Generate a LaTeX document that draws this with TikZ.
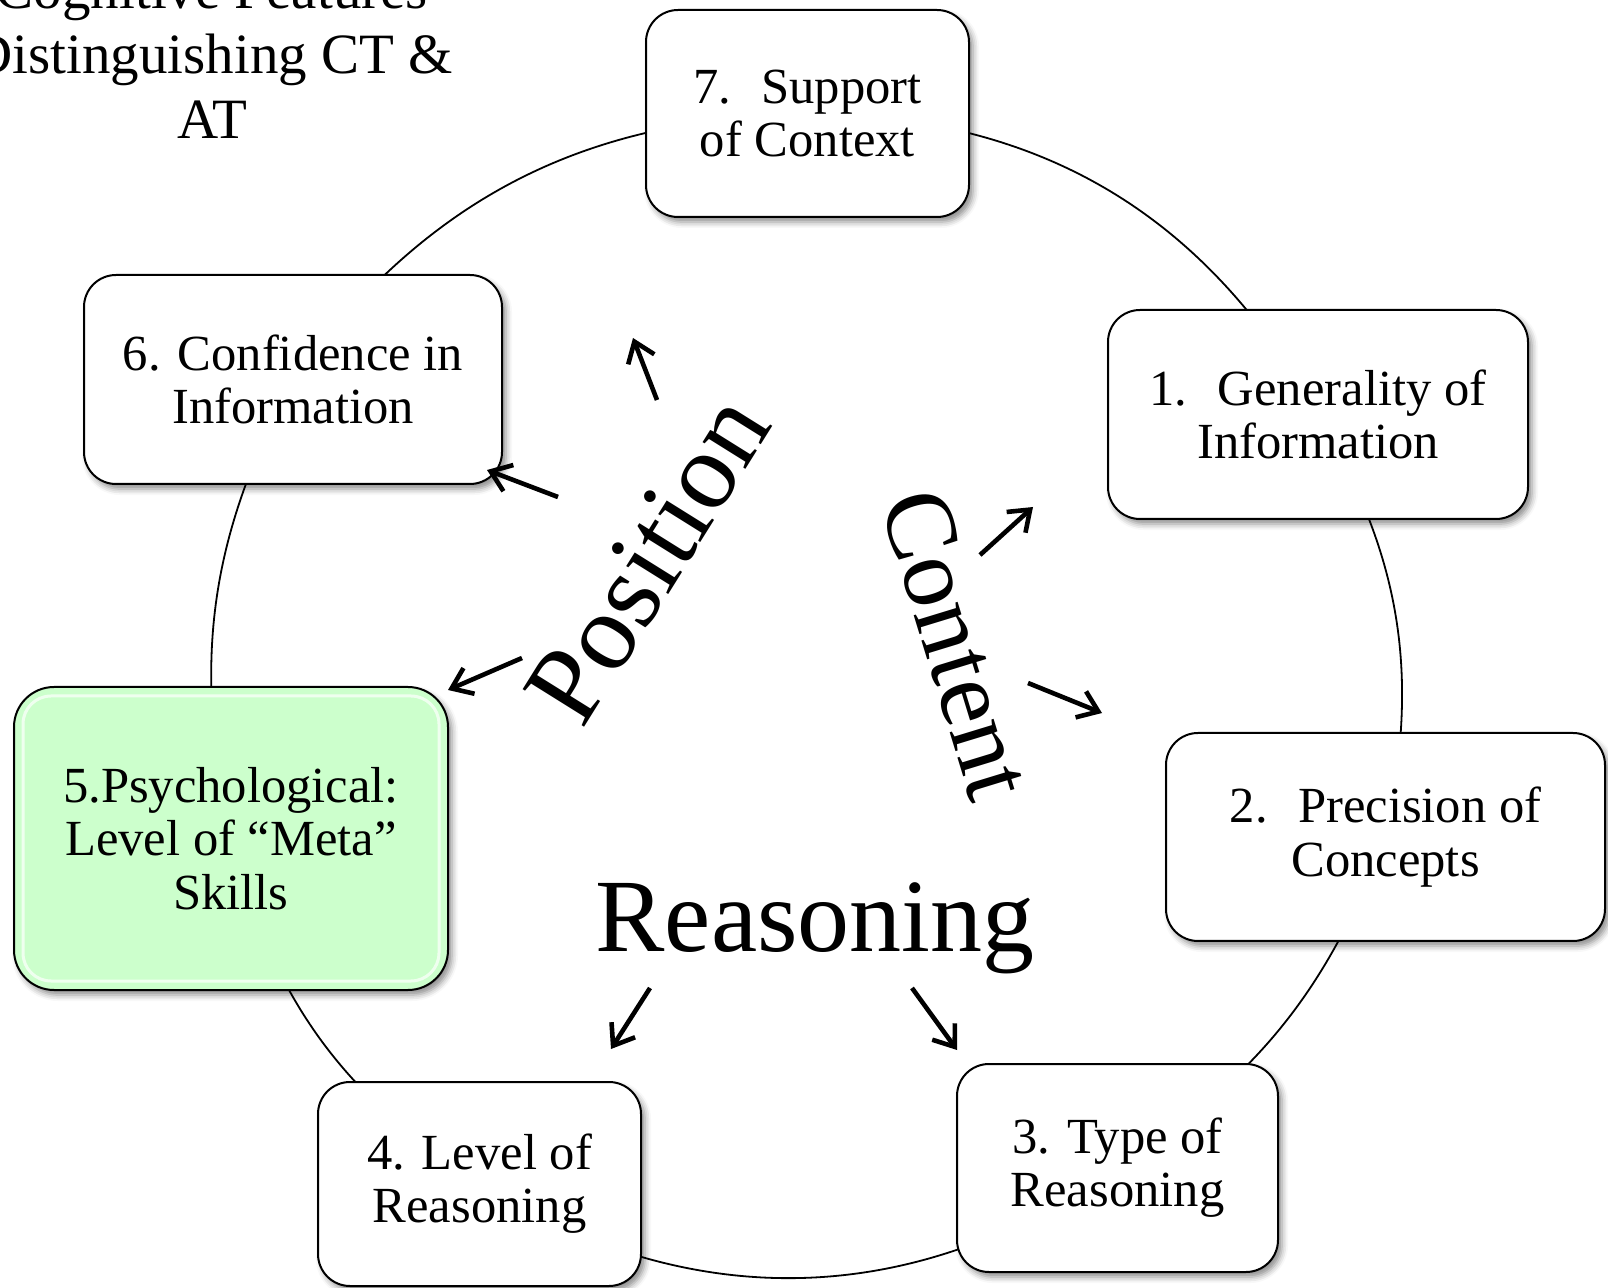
\documentclass[tikz,border=0pt]{standalone}
\usepackage{fontspec}
\setmainfont{Liberation Serif}
\usetikzlibrary{arrows.meta,shadows.blur,calc}
\definecolor{metagreen}{RGB}{204,255,204}
\pgfdeclarelayer{ring}
\pgfsetlayers{ring,main}
\begin{document}
\begin{tikzpicture}[x=0.5pt,y=-0.5pt,
  feature/.style={draw=black, line width=1pt, fill=white, rounded corners=16pt,
    align=center, inner sep=0pt,
    font=\fontsize{25.3pt}{26.6pt}\selectfont,
    blur shadow={shadow xshift=2pt, shadow yshift=-2.5pt,
      shadow blur radius=3pt, shadow opacity=45}},
  ringline/.style={line width=0.9pt},
  pointer/.style={line width=2.3pt, -{Straight Barb[length=9.5pt,width=14pt]}},
  bigword/.style={inner sep=0pt}]
\useasboundingbox (0,0) rectangle (1608,1288);

% title
\node[font=\fontsize{28.5pt}{32.5pt}\selectfont, align=center, inner sep=0pt]
  (title) at (212,55) {Cognitive Features\\Distinguishing CT \&\\AT};

% the seven features
\node[feature, minimum width=161.5pt, minimum height=103.5pt] (n7) at (807.5,113.5)
  {7.\hspace{0.6em}Support\\of Context};
\node[feature, minimum width=210pt, minimum height=104.5pt] (n1) at (1318,414.5)
  {1.\hspace{0.6em}Generality of\\Information};
\node[feature, minimum width=219.5pt, minimum height=104pt] (n2) at (1385.5,837)
  {2.\hspace{0.6em}Precision of\\Concepts};
\node[feature, minimum width=160.5pt, minimum height=104pt] (n3) at (1117.5,1168)
  {3. Type of\\Reasoning};
\node[feature, minimum width=161.5pt, minimum height=102pt] (n4) at (479.5,1184)
  {4. Level of\\Reasoning};
\node[feature, fill=metagreen, rounded corners=20pt, minimum width=217pt,
  minimum height=151.5pt] (n5) at (231,838.5)
  {5.Psychological:\\Level of ``Meta''\\Skills};
\node[feature, minimum width=209pt, minimum height=104.5pt] (n6) at (293,379.5)
  {6. Confidence in\\Information};

% gloss on the highlighted box
\draw[white, opacity=0.7, line width=1.5pt, rounded corners=14pt]
  ($(n5.north west)+(10,10)$) rectangle ($(n5.south east)+(-10,-10)$);

% cycle ring behind the boxes
\begin{pgfonlayer}{ring}
\draw[ringline] (n7.center) to[bend left=30] (n1.center)
  to[bend left=21] (n2.center) to[bend left=18] (n3.center)
  to[bend left=33] (n4.center) to[bend left=21] (n5.center)
  to[bend left=20] (n6.center) to[bend left=26] (n7.center);
\end{pgfonlayer}

% group labels
\node[bigword, font=\fontsize{52pt}{55pt}\selectfont, anchor=base]
  (reasoning) at (815,951) {Reasoning};
\node[bigword, font=\fontsize{55pt}{58pt}\selectfont, rotate=58]
  (position) at (648,559) {Position};
\node[bigword, font=\fontsize{50pt}{53pt}\selectfont, rotate=-73]
  (content) at (957,644) {Content};

% pointers from the group labels
\coordinate (p1s) at (657,400);  \coordinate (p1e) at (633,338);
\coordinate (p2s) at (558,497);  \coordinate (p2e) at (487,470);
\coordinate (p3s) at (522,658);  \coordinate (p3e) at (448,690);
\coordinate (c1s) at (980,555);  \coordinate (c1e) at (1033,507);
\coordinate (c2s) at (1028,683); \coordinate (c2e) at (1102,713);
\coordinate (r1s) at (650,988);  \coordinate (r1e) at (611,1049);
\coordinate (r2s) at (912,988);  \coordinate (r2e) at (957,1050);
\draw[pointer] (p1s) -- (p1e);
\draw[pointer] (p2s) -- (p2e);
\draw[pointer] (p3s) -- (p3e);
\draw[pointer] (c1s) -- (c1e);
\draw[pointer] (c2s) -- (c2e);
\draw[pointer] (r1s) -- (r1e);
\draw[pointer] (r2s) -- (r2e);
\end{tikzpicture}
\end{document}
